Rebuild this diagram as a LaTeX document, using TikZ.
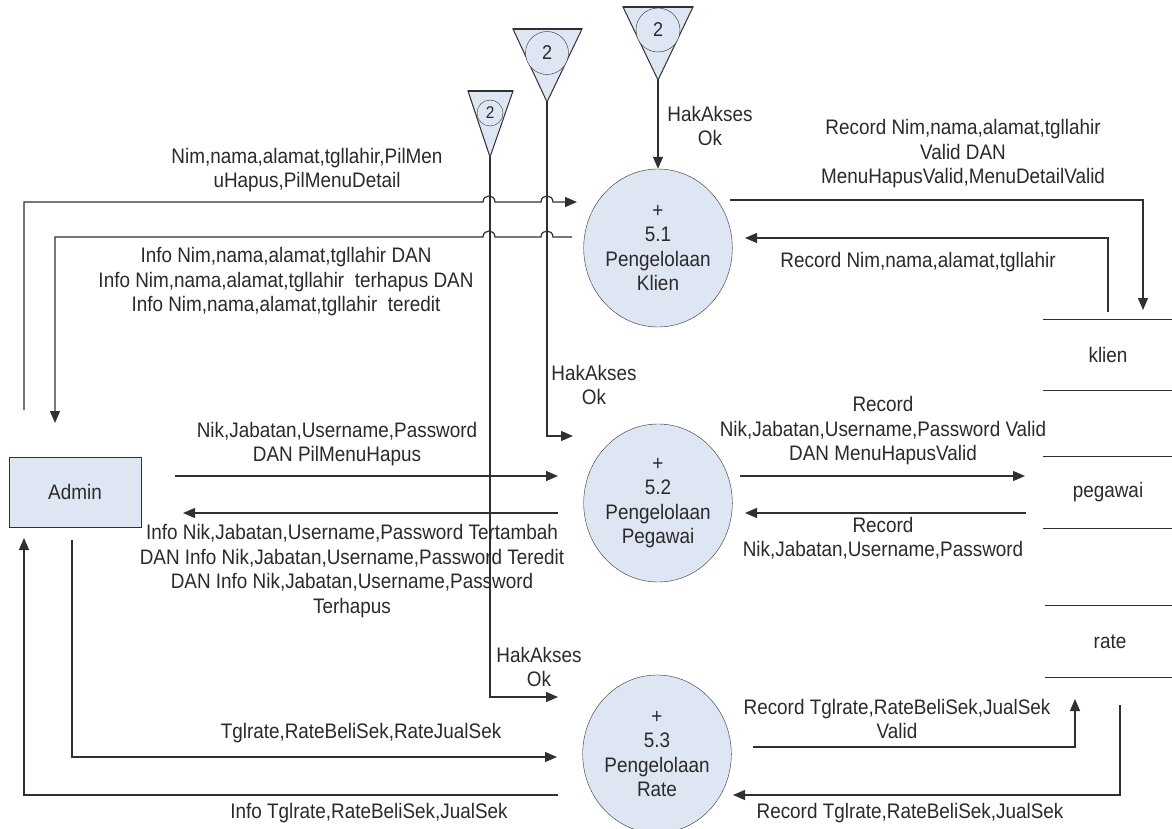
\documentclass[tikz,border=0pt]{standalone}
\usepackage{fontspec}
\setmainfont{Liberation Sans}[FakeStretch=0.9]
\usetikzlibrary{positioning}
\usetikzlibrary{calc}
\usetikzlibrary{arrows.meta}
\usetikzlibrary{shapes.geometric}
\definecolor{ink}{HTML}{303030}
\definecolor{inktext}{HTML}{2A2A2A}
\definecolor{boxfill}{HTML}{DFE6F3}

\begin{document}
\begin{tikzpicture} [
    x=1pt, y=-1pt,                          % pixel grid, y going down
    font=\fontsize{21}{24.5}\selectfont,
    ]
% -------------------------------------------------
\tikzset{
  proc/.style={draw=ink, ellipse, fill=boxfill, minimum width=146pt, minimum height=158pt, inner sep=0pt, align=center, text=inktext},
  ent/.style={draw=ink, rectangle, fill=boxfill, minimum width=132pt, minimum height=70pt, text=inktext},
  store/.style={minimum width=130pt, minimum height=71pt, inner sep=0pt, text=inktext},
  refc/.style={draw=ink, circle, fill=boxfill, inner sep=0pt, text=inktext},
  line/.style={draw=ink, line width=1.2pt, -{Triangle[length=12pt,width=10pt]}},
  rule/.style={draw=ink, line width=1.2pt},
  lbl/.style={align=center, text=inktext, inner sep=0pt}
}

    \useasboundingbox (0,0) rectangle (1172,829);

    % off-page references
    \draw[ink, fill=boxfill, line width=1pt] (468,91) -- (513,91) -- (490,157) -- cycle;   % ref 1: triangle
    \draw[ink, line width=2.6pt] (468,91) -- (513,91);                                      % ref 1: top bar
    \node[refc, minimum size=26pt, font=\fontsize{17}{17}\selectfont] (ref1) at (490,113) {2};
    \coordinate (ref1tip) at (490,157);

    \draw[ink, fill=boxfill, line width=1pt] (513,29) -- (582,29) -- (547,102) -- cycle;   % ref 2: triangle
    \draw[ink, line width=2.6pt] (513,29) -- (582,29);                                      % ref 2: top bar
    \node[refc, minimum size=43pt, font=\fontsize{20}{20}\selectfont] (ref2) at (547,53) {2};
    \coordinate (ref2tip) at (547,102);

    \draw[ink, fill=boxfill, line width=1pt] (623,7) -- (693,7) -- (658,80) -- cycle;      % ref 3: triangle
    \draw[ink, line width=2.6pt] (623,7) -- (693,7);                                        % ref 3: top bar
    \node[refc, minimum size=44pt, font=\fontsize{20}{20}\selectfont] (ref3) at (658,30) {2};
    \coordinate (ref3tip) at (658,80);

    % entity, processes, stores
    \node [ent] (admin) at (75,492) {Admin};
    \node [proc] (p51) at (658,248) {+\\5.1\\Pengelolaan\\Klien};
    \node [proc] (p52) at (658,503) {+\\5.2\\Pengelolaan\\Pegawai};
    \node [proc] (p53) at (657,754) {+\\5.3\\Pengelolaan\\Rate};

    \node [store] (klien) at (1108,355) {klien};
    \node [store] (pegawai) at (1108,492.5) {pegawai};
    \node [store] (rate) at (1110,641.5) {rate};
    \path [rule] (klien.north west) -- (klien.north east) (klien.south west) -- (klien.south east);
    \path [rule] (pegawai.north west) -- (pegawai.north east) (pegawai.south west) -- (pegawai.south east);
    \path [rule] (rate.north west) -- (rate.north east) (rate.south west) -- (rate.south east);

    % free ends of the flows
    \coordinate (adminOutA) at (24,410);
    \coordinate (in51a) at (577,202);
    \coordinate (out51b) at (572,237);
    \coordinate (adminInB) at (55,423);
    \coordinate (out51d) at (730,200);
    \coordinate (klienInD) at (1143,310);
    \coordinate (klienOutE) at (1108,312);
    \coordinate (in51e) at (745,238);
    \coordinate (in52f) at (573,436);
    \coordinate (adminOutG) at (175,476);
    \coordinate (in52g) at (558,476);
    \coordinate (out52h) at (558,513);
    \coordinate (adminInH) at (183,513);
    \coordinate (out52i) at (740,476);
    \coordinate (pegInI) at (1025,476);
    \coordinate (pegOutJ) at (1026,513);
    \coordinate (in52j) at (745,513);
    \coordinate (in53k) at (558,697);
    \coordinate (adminOutL) at (72,540);
    \coordinate (in53l) at (557,757);
    \coordinate (out53m) at (558,795);
    \coordinate (adminInM) at (24,538);
    \coordinate (out53n) at (753,747);
    \coordinate (rateInN) at (1075,699);
    \coordinate (rateOutO) at (1120,705);
    \coordinate (in53o) at (733,795);

    % flows of 5.1 (with jumps over the reference lines)
    \path [line] (adminOutA) -- (24,202) -- (483,202) .. controls (483,194) and (495,194) .. (495,202)
        -- (541,202) .. controls (541,194) and (553,194) .. (553,202) -- (in51a);
    \path [line] (out51b) -- (553,237) .. controls (553,229) and (541,229) .. (541,237)
        -- (495,237) .. controls (495,229) and (483,229) .. (483,237) -- (55,237) -- (adminInB);
    \path [line] (ref3tip) -- (p51.north);
    \path [line] (out51d) -| (klienInD);
    \path [line] (klienOutE) |- (in51e);

    % flows of 5.2
    \path [line] (ref2tip) |- (in52f);
    \path [line] (adminOutG) -- (in52g);
    \path [line] (out52h) -- (adminInH);
    \path [line] (out52i) -- (pegInI);
    \path [line] (pegOutJ) -- (in52j);

    % flows of 5.3
    \path [line] (ref1tip) |- (in53k);
    \path [line] (adminOutL) |- (in53l);
    \path [line] (out53m) -| (adminInM);
    \path [line] (out53n) -| (rateInN);
    \path [line] (rateOutO) |- (in53o);

    % flow labels
    \node [lbl] (lblA) at (307,170) {Nim,nama,alamat,tgllahir,PilMen\\uHapus,PilMenuDetail};
    \node [lbl] (lblB) at (286,282) {Info Nim,nama,alamat,tgllahir DAN\\Info Nim,nama,alamat,tgllahir\ \ terhapus DAN\\Info Nim,nama,alamat,tgllahir\ \ teredit};
    \node [lbl] (lblC) at (710,126) {HakAkses\\Ok};
    \node [lbl] (lblD) at (963,154) {Record Nim,nama,alamat,tgllahir\\Valid DAN\\MenuHapusValid,MenuDetailValid};
    \node [lbl] (lblE) at (918,262) {Record Nim,nama,alamat,tgllahir};
    \node [lbl] (lblF) at (594,385) {HakAkses\\Ok};
    \node [lbl] (lblG) at (337,444) {Nik,Jabatan,Username,Password\\DAN PilMenuHapus};
    \node [lbl] (lblH) at (352,571) {Info Nik,Jabatan,Username,Password Tertambah\\DAN Info Nik,Jabatan,Username,Password Teredit\\DAN Info Nik,Jabatan,Username,Password\\Terhapus};
    \node [lbl] (lblI) at (883,431) {Record\\Nik,Jabatan,Username,Password Valid\\DAN MenuHapusValid};
    \node [lbl] (lblJ) at (883,538) {Record\\Nik,Jabatan,Username,Password};
    \node [lbl] (lblK) at (539,667) {HakAkses\\Ok};
    \node [lbl] (lblL) at (361,733) {Tglrate,RateBeliSek,RateJualSek};
    \node [lbl] (lblM) at (369,813) {Info Tglrate,RateBeliSek,JualSek};
    \node [lbl] (lblN) at (897,719) {Record Tglrate,RateBeliSek,JualSek\\Valid};
    \node [lbl] (lblO) at (910,813) {Record Tglrate,RateBeliSek,JualSek};

\end{tikzpicture}
\end{document}
